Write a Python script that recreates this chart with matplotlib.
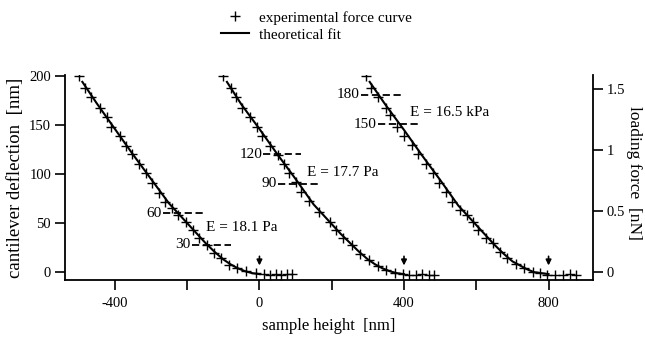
import matplotlib
matplotlib.use("Agg")
import matplotlib.pyplot as plt
from matplotlib.ticker import FixedLocator, FixedFormatter

plt.rcParams['font.family'] = 'Liberation Serif'
plt.rcParams['axes.unicode_minus'] = False

# experimental force curves (sample height [nm], deflection [nm])
exp1_x = [-500, -484, -465, -440, -423, -410, -387, -368, -354, -332, -313, -296, -277, -260, -242, -225,
          -202, -185, -166, -144, -125, -105, -83, -61, -36, -10, 12, 30, 45, 60, 75, 90]
exp1_y = [200, 188, 179, 167, 158, 148, 139, 129, 120, 110, 101, 91, 81, 72, 65, 58,
          51, 43, 35, 28, 20, 14, 7, 4, 1, -1, -2, -3, -2, -3, -2, -2]

exp2_x = [-100, -80, -66, -47, -25, -8, 8, 28, 50, 69, 83, 100, 116, 138, 166, 194,
          213, 230, 255, 277, 302, 327, 351, 374, 396, 415, 434, 451, 468, 482]
exp2_y = [200, 188, 179, 167, 158, 148, 139, 129, 119, 110, 101, 92, 82, 73, 61, 51,
          43, 35, 28, 19, 12, 6, 2, -1, -2, -3, -3, -2, -3, -3]

exp3_x = [296, 310, 329, 351, 360, 382, 401, 421, 440, 462, 479, 498, 515, 534, 556, 573,
          590, 606, 628, 645, 667, 686, 711, 733, 756, 775, 797, 817, 839, 858, 877]
exp3_y = [200, 188, 179, 167, 160, 148, 139, 130, 120, 110, 101, 91, 82, 72, 63, 58,
          51, 43, 35, 30, 21, 14, 8, 4, 0, -1, -3, -3, -3, -2, -3]

# theoretical fits
fit1_x = [-490, -450, -400, -350, -300, -250, -200, -175, -150, -125, -100, -80, -60, -40, -20, 0]
fit1_y = [194, 172, 146, 120, 95, 70, 50, 40, 30, 21, 13, 8, 4, 1, -1, -2]
fit2_x = [-90, -50, 0, 50, 100, 150, 200, 225, 250, 275, 300, 320, 340, 360, 380, 400]
fit2_y = [194, 171, 146, 120, 95, 69, 49, 39, 30, 21, 13, 8, 4, 1, -1, -2]
fit3_x = [305, 350, 400, 450, 500, 550, 600, 625, 650, 675, 700, 720, 740, 760, 780, 800]
fit3_y = [194, 170, 145, 119, 94, 68, 48, 38, 28, 19, 11, 7, 3, 0, -1, -2]

# fit range markers
dash_labels = ['60', '30', '120', '90', '180', '150']
dash_y = [60, 28, 120, 90, 181, 151]
dash_x0 = [-268, -188, 11, 50, 280, 327]
dash_x1 = [-147, -78, 116, 166, 396, 448]

e_labels = ['E = 18.1 Pa', 'E = 17.7 Pa', 'E = 16.5 kPa']
e_x = [-148, 131, 417]
e_y = [46, 102, 163]

contact_x = [0, 400, 800]

nm_per_nN = 124.8

fig = plt.figure(figsize=(6.45, 3.37), dpi=100)
ax = fig.add_axes([0.1008, 0.1691, 0.8186, 0.6083])

mk = dict(marker='+', linestyle='none', color='black', markersize=6.5, mew=1.0)
p1, = ax.plot(exp1_x, exp1_y, **mk, label='experimental force curve')
ax.plot(exp2_x, exp2_y, **mk)
ax.plot(exp3_x, exp3_y, **mk)
l1, = ax.plot(fit1_x, fit1_y, color='black', lw=1.5, label='theoretical fit')
ax.plot(fit2_x, fit2_y, color='black', lw=1.5)
ax.plot(fit3_x, fit3_y, color='black', lw=1.5)

for lab, y, x0, x1 in zip(dash_labels, dash_y, dash_x0, dash_x1):
    ax.plot([x0, x1], [y, y], color='black', lw=1.3, linestyle=(0, (4, 2)))
    ax.text(x0 - 3, y, lab, ha='right', va='center', fontsize=11)

for lab, x, y in zip(e_labels, e_x, e_y):
    ax.text(x, y, lab, ha='left', va='center', fontsize=11)

for x in contact_x:
    ax.annotate('', xy=(x, 4), xytext=(x, 19),
                arrowprops=dict(arrowstyle='-|>', color='black', lw=1.2, mutation_scale=8))

ax.set_xlim(-538, 923)
ax.set_ylim(-8, 201)
ax.set_xticks([-400, 0, 400, 800])
ax.xaxis.set_minor_locator(FixedLocator([-200, 200, 600]))
ax.set_yticks([0, 50, 100, 150, 200])
ax.tick_params(axis='both', which='both', direction='out', length=7, width=1.2, labelsize=10.5)
ax.tick_params(axis='x', pad=5)
ax.tick_params(axis='y', pad=3)
for s in ['top', 'right']:
    ax.spines[s].set_visible(False)
for s in ['left', 'bottom']:
    ax.spines[s].set_linewidth(1.3)
ax.set_xlabel('sample height  [nm]', fontsize=12, labelpad=6)
ax.set_ylabel('cantilever deflection  [nm]', fontsize=13.5, labelpad=4)

ax2 = ax.twinx()
ax2.set_ylim(-8 / nm_per_nN, 201 / nm_per_nN)
ax2.yaxis.set_major_locator(FixedLocator([0, 0.5, 1, 1.5]))
ax2.yaxis.set_major_formatter(FixedFormatter(['0', '0.5', '1', '1.5']))
ax2.tick_params(axis='y', direction='out', length=7, width=1.2, labelsize=10.5, pad=3)
for s in ['top', 'left', 'bottom']:
    ax2.spines[s].set_visible(False)
ax2.spines['right'].set_linewidth(1.3)
ax2.set_ylabel('loading force  [nN]', fontsize=12.5, rotation=270, va='center')
ax2.yaxis.set_label_coords(1.078, 0.52)

fig.legend(handles=[p1, l1], loc='upper left', bbox_to_anchor=(0.331, 0.99),
           frameon=False, borderpad=0, handlelength=1.8, handletextpad=0.7,
           labelspacing=0.2, fontsize=11)

fig.savefig('out.png', dpi=100)
